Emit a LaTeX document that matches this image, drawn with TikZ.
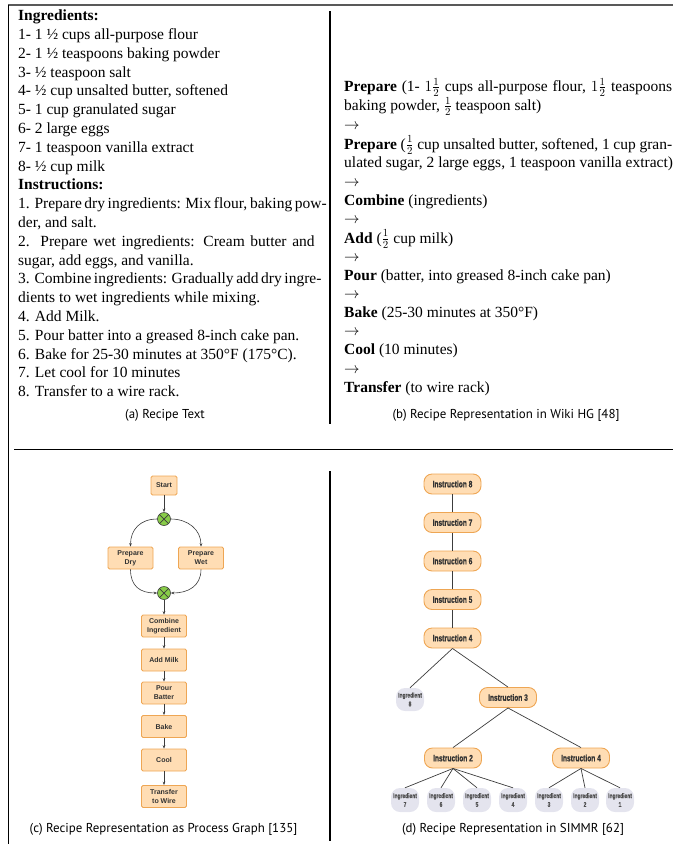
\documentclass[tikz,border=0pt]{standalone}
\usepackage{fix-cm}
\usepackage{fontspec}
\setmainfont{Liberation Serif}
\setsansfont{Liberation Sans}
\newfontfamily\capfont{PT Sans}
\newfontfamily\condbold[FakeStretch=0.72,FakeBold=0.6]{Liberation Sans Bold}
\usetikzlibrary{arrows.meta}
\definecolor{peach}{RGB}{255,221,180}
\definecolor{peachline}{RGB}{238,166,84}
\definecolor{lav}{RGB}{228,228,238}
\definecolor{xgreen}{RGB}{136,204,72}
\definecolor{edgec}{RGB}{60,60,60}
\definecolor{lblc}{RGB}{51,51,51}
\definecolor{ingc}{RGB}{80,80,80}
\begin{document}
\begin{tikzpicture}[x=1pt,y=-1pt,
  txt/.style={anchor=base west, inner sep=0pt, font=\fontsize{15.5}{18.8}\selectfont},
  capt/.style={anchor=base, inner sep=0pt, font=\capfont\fontsize{12.9}{14}\selectfont},
  pbox/.style={draw=peachline, fill=peach, line width=0.8pt, rounded corners=1.5pt,
    minimum width=45pt, minimum height=22pt, inner sep=0pt, align=center, text=lblc,
    font=\sffamily\bfseries\fontsize{7}{9}\selectfont},
  xorc/.style={circle, draw=edgec, fill=xgreen, line width=0.6pt, minimum size=13pt, inner sep=0pt,
    path picture={\draw[edgec, line width=0.7pt]
      (path picture bounding box.north west) -- (path picture bounding box.south east)
      (path picture bounding box.south west) -- (path picture bounding box.north east);}},
  parr/.style={draw=edgec, line width=0.6pt, -{Stealth[length=3.5pt,width=2.6pt]}},
  ibox/.style={draw=peachline, fill=peach, line width=0.9pt, rounded corners=8pt,
    minimum width=57pt, minimum height=20pt, inner sep=0pt, text=lblc,
    font=\condbold\fontsize{9.2}{10}\selectfont},
  gbox/.style={fill=lav, rounded corners=9pt, minimum width=28pt, minimum height=24pt,
    inner sep=0pt, align=center, text=ingc,
    font=\condbold\fontsize{6.8}{8.7}\selectfont},
  dline/.style={draw=edgec, line width=0.7pt}
]
\useasboundingbox (0,0) rectangle (673,844);
% frame rules
\draw[black!65, line width=1.3pt] (8,5) -- (673,5);
\draw[black, line width=1pt] (8,5) -- (8,844);
\draw[black, line width=1.5pt] (330,11) -- (330,424);
\draw[black, line width=1pt] (14,449) -- (673,449);
\draw[black, line width=1.5pt] (330,471) -- (330,841);

% (a) recipe text
\node[txt] (a0) at (18,20.7) {\textbf{Ingredients:}};
\node[txt] (a1) at (18,39.5) {1- 1 ½ cups all-purpose flour};
\node[txt] (a2) at (18,58.3) {2- 1 ½ teaspoons baking powder};
\node[txt] (a3) at (18,77.1) {3- ½ teaspoon salt};
\node[txt] (a4) at (18,95.9) {4- ½ cup unsalted butter, softened};
\node[txt] (a5) at (18,114.7) {5- 1 cup granulated sugar};
\node[txt] (a6) at (18,133.5) {6- 2 large eggs};
\node[txt] (a7) at (18,152.3) {7- 1 teaspoon vanilla extract};
\node[txt] (a8) at (18,171.1) {8- ½ cup milk};
\node[txt] (a9) at (18,189.9) {\textbf{Instructions:}};
\node[txt] (a10) at (18,208.7) {\makebox[296.5pt][s]{1. Prepare dry ingredients: Mix flour, baking pow-}};
\node[txt] (a11) at (18,227.5) {der, and salt.};
\node[txt] (a12) at (18,246.3) {\makebox[296.5pt][s]{2. Prepare wet ingredients: Cream butter and}};
\node[txt] (a13) at (18,265.1) {sugar, add eggs, and vanilla.};
\node[txt] (a14) at (18,283.9) {\makebox[296.5pt][s]{3. Combine ingredients: Gradually add dry ingre-}};
\node[txt] (a15) at (18,302.7) {dients to wet ingredients while mixing.};
\node[txt] (a16) at (18,321.5) {4. Add Milk.};
\node[txt] (a17) at (18,340.3) {5. Pour batter into a greased 8-inch cake pan.};
\node[txt] (a18) at (18,359.1) {6. Bake for 25-30 minutes at 350°F (175°C).};
\node[txt] (a19) at (18,377.9) {7. Let cool for 10 minutes};
\node[txt] (a20) at (18,396.7) {8. Transfer to a wire rack.};
\node[capt] (capa) at (165,418) {(a) Recipe Text};

% (b) Wiki HG
\node[txt] (b0) at (344,91.5) {\makebox[328pt][s]{\textbf{Prepare} (1- $1\frac{1}{2}$ cups all-purpose flour, $1\frac{1}{2}$ teaspoons}};
\node[txt] (b1) at (344,110.5) {baking powder, $\frac{1}{2}$ teaspoon salt)};
\node[txt] (b2) at (344,129) {$\rightarrow$};
\node[txt] (b3) at (344,149) {\makebox[328pt][s]{\textbf{Prepare} ($\frac{1}{2}$ cup unsalted butter, softened, 1 cup gran-}};
\node[txt] (b4) at (344,167.5) {ulated sugar, 2 large eggs, 1 teaspoon vanilla extract)};
\node[txt] (b5) at (344,186) {$\rightarrow$};
\node[txt] (b6) at (344,205) {\textbf{Combine} (ingredients)};
\node[txt] (b7) at (344,223.5) {$\rightarrow$};
\node[txt] (b8) at (344,243) {\textbf{Add} ($\frac{1}{2}$ cup milk)};
\node[txt] (b9) at (344,261.5) {$\rightarrow$};
\node[txt] (b10) at (344,280) {\textbf{Pour} (batter, into greased 8-inch cake pan)};
\node[txt] (b11) at (344,298.5) {$\rightarrow$};
\node[txt] (b12) at (344,317) {\textbf{Bake} (25-30 minutes at 350°F)};
\node[txt] (b13) at (344,335.5) {$\rightarrow$};
\node[txt] (b14) at (344,354.5) {\textbf{Cool} (10 minutes)};
\node[txt] (b15) at (344,373) {$\rightarrow$};
\node[txt] (b16) at (344,392) {\textbf{Transfer} (to wire rack)};
\node[capt] (capb) at (506,418) {(b) Recipe Representation in Wiki HG [48]};

% (c) process graph
\node[pbox, minimum width=26pt, minimum height=19pt] (start) at (164,485.5) {Start};
\node[xorc] (x1) at (164,519) {};
\node[pbox] (pd) at (130.5,558) {Prepare\\Dry};
\node[pbox] (pw) at (201,558) {Prepare\\Wet};
\node[xorc] (x2) at (164,593) {};
\node[pbox] (comb) at (164,626) {Combine\\Ingredient};
\node[pbox] (milk) at (164,660) {Add Milk};
\node[pbox] (pour) at (164,693) {Pour\\Batter};
\node[pbox] (bake) at (164,726.5) {Bake};
\node[pbox] (cool) at (164,760) {Cool};
\node[pbox] (trans) at (164,796.5) {Transfer\\to Wire};
\draw[parr] (start) -- (x1);
\draw[parr] (x1.west) .. controls +(-17,0) and +(0,-17) .. (pd.north);
\draw[parr] (x1.east) .. controls +(17,0) and +(0,-17) .. (pw.north);
\draw[parr] (pd.south) .. controls +(0,17) and +(-17,0) .. (x2.west);
\draw[parr] (pw.south) .. controls +(0,17) and +(17,0) .. (x2.east);
\draw[parr] (x2) -- (comb);
\draw[parr] (comb) -- (milk);
\draw[parr] (milk) -- (pour);
\draw[parr] (pour) -- (bake);
\draw[parr] (bake) -- (cool);
\draw[parr] (cool) -- (trans);
\node[capt] (capc) at (163.5,832) {(c) Recipe Representation as Process Graph [135]};

% (d) SIMMR
\node[ibox] (i8) at (452.5,484) {Instruction 8};
\node[ibox] (i7) at (452.5,522.5) {Instruction 7};
\node[ibox] (i6) at (452.5,561) {Instruction 6};
\node[ibox] (i5) at (452.5,599.5) {Instruction 5};
\node[ibox] (i4) at (452.5,638) {Instruction 4};
\node[gbox, minimum height=23pt] (g8) at (410,699.5) {Ingredient\\8};
\node[ibox] (i3) at (508,697.5) {Instruction 3};
\node[ibox] (i2) at (453,758) {Instruction 2};
\node[ibox] (i4b) at (581,758) {Instruction 4};
\node[gbox] (g7) at (405,800) {Ingredient\\7};
\node[gbox] (g6) at (441,800) {Ingredient\\6};
\node[gbox] (g5) at (477,800) {Ingredient\\5};
\node[gbox] (g4) at (513,800) {Ingredient\\4};
\node[gbox] (g3) at (549,800) {Ingredient\\3};
\node[gbox] (g2) at (585,800) {Ingredient\\2};
\node[gbox] (g1) at (620,800) {Ingredient\\1};
\draw[dline] (i8) -- (i7);
\draw[dline] (i7) -- (i6);
\draw[dline] (i6) -- (i5);
\draw[dline] (i5) -- (i4);
\draw[dline] (i4.south) -- (g8.north);
\draw[dline] (i4.south) -- (i3.north);
\draw[dline] (i3.south) -- (i2.north);
\draw[dline] (i3.south) -- (i4b.north);
\draw[dline] (i2.south) -- (g7.north);
\draw[dline] (i2.south) -- (g6.north);
\draw[dline] (i2.south) -- (g5.north);
\draw[dline] (i2.south) -- (g4.north);
\draw[dline] (i4b.south) -- (g3.north);
\draw[dline] (i4b.south) -- (g2.north);
\draw[dline] (i4b.south) -- (g1.north);
\node[capt] (capd) at (513,832) {(d) Recipe Representation in SIMMR [62]};
\end{tikzpicture}
\end{document}
